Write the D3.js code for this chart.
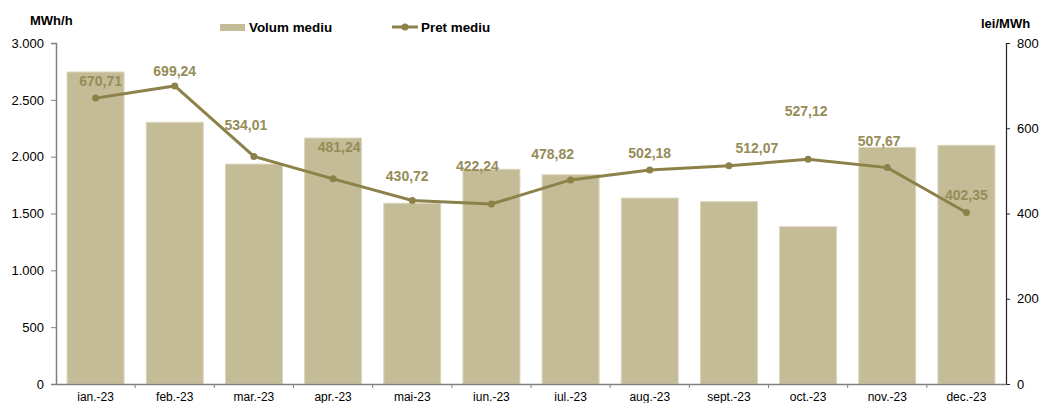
<!DOCTYPE html>
<html>
<head>
<meta charset="utf-8">
<script src="https://cdn.jsdelivr.net/npm/d3@7"></script>
<style>
  body { margin: 0; background: #fff; }
  svg { font-family: "Liberation Sans", Arial, sans-serif; }
</style>
</head>
<body>
<div id="chart"></div>
<script>
const months = ['ian.-23', 'feb.-23', 'mar.-23', 'apr.-23', 'mai-23', 'iun.-23',
                'iul.-23', 'aug.-23', 'sept.-23', 'oct.-23', 'nov.-23', 'dec.-23'];
const volume = [2745, 2302, 1935, 2164, 1590, 1889, 1841, 1636, 1604, 1384, 2082, 2100];
const price = [670.71, 699.24, 534.01, 481.24, 430.72, 422.24, 478.82, 502.18, 512.07, 527.12, 507.67, 402.35];
const volumeTicks = [0, 500, 1000, 1500, 2000, 2500, 3000];
const priceTicks = [0, 200, 400, 600, 800];

// hand placed label offsets (px), as in the original sheet
const labelShift = [[5, -17], [0, -15], [-8, -31], [6, -32], [-5, -24], [-14, -38],
                    [-18, -26], [0, -17], [28, -18], [-2, -48], [-8, -27], [0, -17]];

const W = 1042, H = 403;
const plotLeft = 56, plotRight = 1006, plotTop = 43, plotBottom = 384;

const barColor = '#c4bc96';
const lineColor = '#8c8249';
const labelColor = '#968c58';

const ro = d3.formatLocale({ decimal: ',', thousands: '.', grouping: [3], currency: ['', ''] });
const fmtInt = ro.format(',d');
const fmtDec = ro.format(',.2f');

const svg = d3.select('#chart').append('svg')
    .attr('width', W)
    .attr('height', H);

const x = d3.scaleBand()
    .domain(months)
    .range([plotLeft, plotRight])
    .paddingInner(0.28)
    .paddingOuter(0.14);

const yL = d3.scaleLinear().domain([0, 3000]).range([plotBottom, plotTop]);
const yR = d3.scaleLinear().domain([0, 800]).range([plotBottom, plotTop]);

// bars
svg.append('g').selectAll('rect').data(volume).enter()
    .append('rect')
        .attr('x', (d, i) => x(months[i]))
        .attr('y', d => yL(d))
        .attr('width', x.bandwidth())
        .attr('height', d => yL(0) - yL(d))
        .attr('fill', barColor)
        .attr('stroke', '#dcd6bd')
        .attr('stroke-width', 1);

// left axis
let leftAxis = svg.append('g')
    .attr('transform', `translate(${plotLeft},0)`)
    .call(d3.axisLeft(yL).tickValues(volumeTicks).tickFormat(fmtInt).tickSizeOuter(0).tickSize(5).tickPadding(7));
leftAxis.select('.domain').attr('stroke', '#808080').attr('stroke-width', 1.5);
leftAxis.selectAll('.tick line').attr('stroke', '#808080');
leftAxis.selectAll('text').attr('font-size', 13).attr('fill', '#000');

// right axis
let rightAxis = svg.append('g')
    .attr('transform', `translate(${plotRight},0)`)
    .call(d3.axisRight(yR).tickValues(priceTicks).tickSizeOuter(0).tickSize(4).tickPadding(7));
rightAxis.select('.domain').attr('stroke', '#222').attr('stroke-width', 1.2);
rightAxis.selectAll('.tick line').attr('stroke', '#222');
rightAxis.selectAll('text').attr('font-size', 13).attr('fill', '#000');

// bottom axis, ticks between categories
let xAxis = svg.append('g')
    .attr('transform', `translate(0,${plotBottom})`)
    .call(d3.axisBottom(x).tickSize(0).tickPadding(8));
xAxis.select('.domain').attr('stroke', '#808080').attr('stroke-width', 1.5);
xAxis.selectAll('text').attr('font-size', 12).attr('fill', '#000');
xAxis.selectAll('.sep').data(d3.range(1, months.length)).enter()
    .append('line')
        .attr('x1', i => x(months[i]) - x.step() * x.paddingInner() / 2)
        .attr('x2', i => x(months[i]) - x.step() * x.paddingInner() / 2)
        .attr('y1', 0)
        .attr('y2', 4)
        .attr('stroke', '#808080');

// price line
const cx = i => x(months[i]) + x.bandwidth() / 2;
const line = d3.line()
    .x((d, i) => cx(i))
    .y(d => yR(d));

svg.append('path')
    .datum(price)
    .attr('d', line)
    .attr('fill', 'none')
    .attr('stroke', lineColor)
    .attr('stroke-width', 3);

svg.append('g').selectAll('circle').data(price).enter()
    .append('circle')
        .attr('cx', (d, i) => cx(i))
        .attr('cy', d => yR(d))
        .attr('r', 3.5)
        .attr('fill', lineColor);

svg.append('g').selectAll('text').data(price).enter()
    .append('text')
        .attr('x', (d, i) => cx(i) + labelShift[i][0])
        .attr('y', (d, i) => yR(d) + labelShift[i][1])
        .attr('dy', '0.35em')
        .attr('text-anchor', 'middle')
        .attr('font-size', 14)
        .attr('font-weight', 'bold')
        .attr('fill', labelColor)
        .text(d => fmtDec(d));

// axis titles
svg.append('text')
    .attr('x', 30).attr('y', 20).attr('dy', '0.35em')
    .attr('font-size', 13).attr('font-weight', 'bold')
    .text('MWh/h');
svg.append('text')
    .attr('x', 981).attr('y', 23).attr('dy', '0.35em')
    .attr('font-size', 13).attr('font-weight', 'bold')
    .text('lei/MWh');

// legend
let legend = svg.append('g');
legend.append('rect')
    .attr('x', 220).attr('y', 24).attr('width', 25).attr('height', 7)
    .attr('fill', barColor);
legend.append('text')
    .attr('x', 249).attr('y', 27).attr('dy', '0.35em')
    .attr('font-size', 13.4).attr('font-weight', 'bold')
    .text('Volum mediu');
legend.append('line')
    .attr('x1', 392).attr('x2', 418).attr('y1', 27).attr('y2', 27)
    .attr('stroke', lineColor).attr('stroke-width', 3);
legend.append('circle')
    .attr('cx', 405).attr('cy', 27).attr('r', 3.5)
    .attr('fill', lineColor);
legend.append('text')
    .attr('x', 421).attr('y', 27).attr('dy', '0.35em')
    .attr('font-size', 13.4).attr('font-weight', 'bold')
    .text('Pret mediu');
</script>
</body>
</html>
